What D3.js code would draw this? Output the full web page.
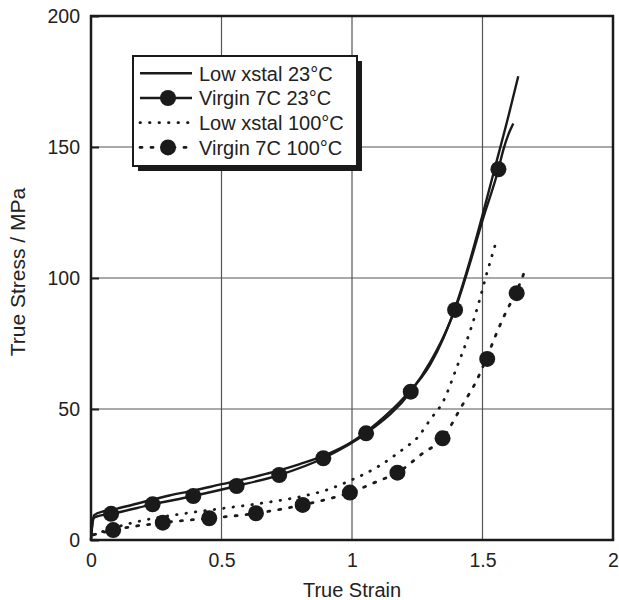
<!DOCTYPE html>
<html>
<head>
<meta charset="utf-8">
<script src="https://cdn.jsdelivr.net/npm/d3@7"></script>
<style>
  body { margin: 0; background: #fff; }
  text { font-family: "Liberation Sans", Arial, sans-serif; fill: #222; }
</style>
</head>
<body>
<div id="chart"></div>
<script>
// ---- data ----
var seriesNames = ["Low xstal 23°C", "Virgin 7C 23°C", "Low xstal 100°C", "Virgin 7C 100°C"];

var lowXstal23Strain = [0, 0.005, 0.012, 0.05, 0.1, 0.2, 0.3, 0.4, 0.5, 0.6, 0.7, 0.8, 0.9, 1.0, 1.1, 1.2, 1.3, 1.35, 1.4, 1.45, 1.5, 1.55, 1.6, 1.637];
var lowXstal23Stress = [0, 6, 9.5, 11, 12, 14.5, 17, 19, 21.3, 23.5, 26, 29, 32.5, 37.5, 45, 54.5, 67, 77, 90, 106, 124, 143, 162, 177];

var virgin23Strain = [0, 0.005, 0.012, 0.03, 0.077, 0.236, 0.392, 0.558, 0.721, 0.89, 1.054, 1.225, 1.3, 1.35, 1.395, 1.45, 1.5, 1.561, 1.58, 1.6, 1.618];
var virgin23Stress = [0, 6, 8.5, 9.2, 10, 13.6, 16.8, 20.6, 24.8, 31.2, 40.7, 56.6, 68, 77.5, 88, 105, 122, 141.5, 149, 155, 159];
var virgin23MarkStrain = [0.077, 0.236, 0.392, 0.558, 0.721, 0.89, 1.054, 1.225, 1.395, 1.561];
var virgin23MarkStress = [10, 13.6, 16.8, 20.6, 24.8, 31.2, 40.7, 56.6, 87.8, 141.5];

var lowXstal100Strain = [0.01, 0.1, 0.2, 0.35, 0.5, 0.65, 0.8, 0.9, 1.0, 1.1, 1.2, 1.25, 1.3, 1.35, 1.4, 1.45, 1.49, 1.513, 1.55];
var lowXstal100Stress = [2, 5, 7.5, 10, 12, 14, 16.5, 19, 23, 28, 35, 39, 46, 53, 65.5, 79, 92, 100.5, 113];

var virgin100Strain = [0.01, 0.085, 0.275, 0.453, 0.632, 0.811, 0.992, 1.1, 1.174, 1.27, 1.347, 1.42, 1.478, 1.518, 1.55, 1.59, 1.631, 1.667];
var virgin100Stress = [2, 3.8, 6.6, 8.3, 10.2, 13.4, 18.1, 22.5, 25.7, 33, 38.8, 51, 61, 70, 78, 87, 95, 104];
var virgin100MarkStrain = [0.085, 0.275, 0.453, 0.632, 0.811, 0.992, 1.174, 1.347, 1.518, 1.631];
var virgin100MarkStress = [3.8, 6.6, 8.3, 10.2, 13.4, 18.1, 25.7, 38.8, 69.1, 94.2];

var xTicks = [0, 0.5, 1, 1.5, 2];
var xTickLabels = ["0", "0.5", "1", "1.5", "2"];
var yTicks = [0, 50, 100, 150, 200];

// ---- layout ----
var margin = {top: 16, right: 6, bottom: 60, left: 91},
    width = 619 - margin.left - margin.right,
    height = 600 - margin.top - margin.bottom;

var svg = d3.select("#chart").append("svg")
    .attr("width", 619)
    .attr("height", 600)
  .append("g")
    .attr("transform", "translate(" + margin.left + "," + margin.top + ")");

var x = d3.scaleLinear().domain([0, 2]).range([0, width]);
var y = d3.scaleLinear().domain([0, 200]).range([height, 0]);

function zip(a, b) {
  return a.map(function(v, i) { return [v, b[i]]; });
}

// grid lines
svg.selectAll(".gx")
    .data(xTicks.slice(1, -1))
  .enter().append("line")
    .attr("x1", function(d) { return x(d); })
    .attr("x2", function(d) { return x(d); })
    .attr("y1", 0).attr("y2", height)
    .style("stroke", "#555").style("stroke-width", 1.2);

svg.selectAll(".gy")
    .data(yTicks.slice(1, -1))
  .enter().append("line")
    .attr("x1", 0).attr("x2", width)
    .attr("y1", function(d) { return y(d); })
    .attr("y2", function(d) { return y(d); })
    .style("stroke", "#555").style("stroke-width", 1.2);

// axes
var xAxis = svg.append("g")
    .attr("transform", "translate(0," + height + ")")
    .call(d3.axisBottom(x).tickValues(xTicks).tickFormat(function(d, i) { return xTickLabels[i]; }).tickSize(0).tickPadding(13));
var yAxis = svg.append("g")
    .call(d3.axisLeft(y).tickValues(yTicks).tickSize(-8).tickPadding(11));

[xAxis, yAxis].forEach(function(a) {
  a.select(".domain").remove();
  a.selectAll("text").style("font-size", "19.5px").style("fill", "#222");
  a.selectAll("line").style("stroke", "#222").style("stroke-width", 2);
});

// frame
svg.append("rect")
    .attr("x", 0).attr("y", 0)
    .attr("width", width).attr("height", height)
    .style("fill", "none").style("stroke", "#1a1a1a").style("stroke-width", 2.5);

// lines
var line = d3.line()
    .x(function(d) { return x(d[0]); })
    .y(function(d) { return y(d[1]); })
    .curve(d3.curveMonotoneX);

var dotted = "0.5,9", dashed = "2,9";

var lines = [
  {pts: zip(lowXstal23Strain, lowXstal23Stress), dash: null},
  {pts: zip(virgin23Strain, virgin23Stress), dash: null},
  {pts: zip(lowXstal100Strain, lowXstal100Stress), dash: dotted},
  {pts: zip(virgin100Strain, virgin100Stress), dash: dashed}
];

lines.forEach(function(s) {
  svg.append("path")
      .datum(s.pts)
      .attr("d", line)
      .style("fill", "none")
      .style("stroke", "#1a1a1a")
      .style("stroke-width", s.dash ? 2.8 : 2.4)
      .style("stroke-linecap", s.dash ? "round" : "butt")
      .style("stroke-dasharray", s.dash);
});

// markers
var marks = zip(virgin23MarkStrain, virgin23MarkStress).concat(zip(virgin100MarkStrain, virgin100MarkStress));
svg.selectAll(".mark")
    .data(marks)
  .enter().append("circle")
    .attr("cx", function(d) { return x(d[0]); })
    .attr("cy", function(d) { return y(d[1]); })
    .attr("r", 8)
    .style("fill", "#1a1a1a");

// axis titles
svg.append("text")
    .attr("x", width / 2)
    .attr("y", height + 57)
    .style("text-anchor", "middle")
    .style("font-size", "20px")
    .text("True Strain");

svg.append("text")
    .attr("transform", "rotate(-90)")
    .attr("x", -256)
    .attr("y", -66)
    .style("text-anchor", "middle")
    .style("font-size", "21px")
    .text("True Stress / MPa");

// legend
var lg = svg.append("g").attr("transform", "translate(42,40)");
lg.append("rect")
    .attr("x", 5).attr("y", 5)
    .attr("width", 224).attr("height", 110)
    .style("fill", "#1a1a1a");
lg.append("rect")
    .attr("x", 0).attr("y", 0)
    .attr("width", 224).attr("height", 110)
    .style("fill", "#fff").style("stroke", "#1a1a1a").style("stroke-width", 2);

var legendDash = [null, null, dotted, dashed];
var legendMark = [false, true, false, true];
seriesNames.forEach(function(name, i) {
  var ry = 17.3 + i * 24.7;
  lg.append("line")
      .attr("x1", 7).attr("x2", 59)
      .attr("y1", ry).attr("y2", ry)
      .style("stroke", "#1a1a1a")
      .style("stroke-width", legendDash[i] ? 2.8 : 2.4)
      .style("stroke-linecap", legendDash[i] ? "round" : "butt")
      .style("stroke-dasharray", legendDash[i]);
  if (legendMark[i]) {
    lg.append("circle").attr("cx", 35).attr("cy", ry).attr("r", 8).style("fill", "#1a1a1a");
  }
  lg.append("text")
      .attr("x", 66).attr("y", ry)
      .attr("dy", "0.36em")
      .style("font-size", "20px")
      .text(name);
});
</script>
</body>
</html>
